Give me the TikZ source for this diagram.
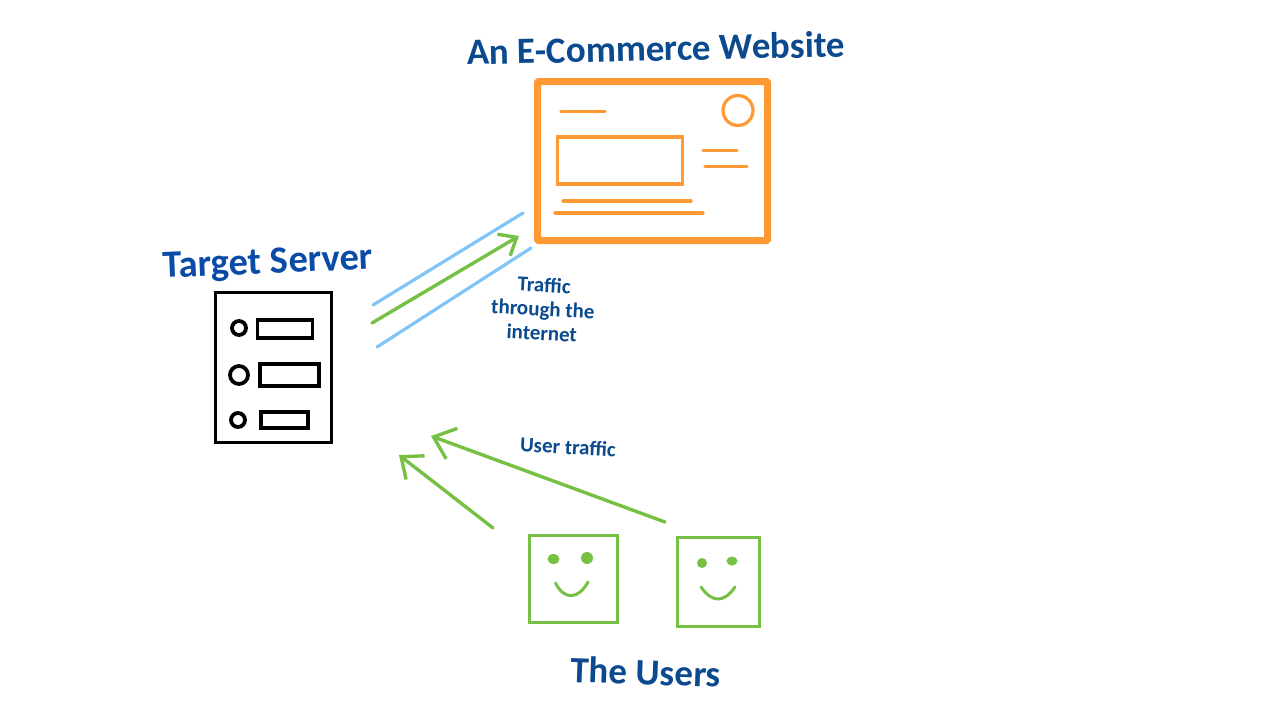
\documentclass[tikz,border=0pt]{standalone}
\usepackage{fontspec}
\setmainfont{Carlito}
\usetikzlibrary{arrows.meta}
\definecolor{navy}{HTML}{0B4A8F}
\definecolor{royal}{HTML}{0A4BA8}
\definecolor{webor}{HTML}{FF9933}
\definecolor{usergr}{HTML}{76C043}
\definecolor{skyb}{HTML}{80C4F8}
\tikzset{
    title/.style={font=\fontsize{#1}{#1}\selectfont\bfseries,text=navy,inner sep=0pt},
    note/.style={font=\fontsize{21}{24}\selectfont\bfseries,text=navy,inner sep=0pt,align=center},
    webline/.style={webor,line width=3.2pt,line cap=round},
    srvline/.style={draw,line width=3.8pt,inner sep=0pt},
    userbox/.style={draw=usergr,line width=3pt,inner sep=0pt,minimum width=#1},
    flow/.style={usergr,line width=3.4pt,line cap=round,-{Straight Barb[length=#1*0.75,width=#1*1.25,line width=3.4pt]}},
    wire/.style={skyb,line width=3.2pt,line cap=round}
}
\begin{document}
\begin{tikzpicture}[x=1pt,y=-1pt]
    \useasboundingbox (0,0) rectangle (1277,710);

    \node[title=37,rotate=1.2] (webtitle) at (656,48) {An E-Commerce Website};
    \node[title=38.5,text=royal,rotate=2.5] (srvtitle) at (268,264) {Target Server};
    \node[title=37,rotate=-2] (usrtitle) at (646,672) {The Users};
    \node[note,rotate=-3] (netnote) at (543,309) {Traffic\\through the\\internet};
    \node[note,rotate=-3] (usrnote) at (568,447) {User traffic};

    % website
    \node[draw=webor,line width=7pt,rounded corners=1pt,minimum width=230pt,minimum height=159pt,inner sep=0pt] (web) at (652.5,161) {};
    \node[draw=webor,line width=3.2pt,minimum width=125pt,minimum height=47pt,inner sep=0pt] (webimg) at (620,160.5) {};
    \node[draw=webor,line width=3.2pt,circle,minimum size=30pt,inner sep=0pt] (weblogo) at (738,110.5) {};
    \foreach \xa/\xb/\y in {561/605/111.5,703/737/150.5,705/747/166.5,563/691/201,555/703/213} {
        \draw[webline] (\xa,\y) -- (\xb,\y);
    }

    % server
    \node[srvline,minimum width=116pt,minimum height=150pt] (srv) at (273.5,367.5) {};
    \foreach \n/\cx/\cy/\r/\bx/\by/\w/\h in {a/239/328/14/285/329/55/18,b/239/375/18/289.5/375/59/22,c/238/420/14/284.5/420/47/16} {
        \node[srvline,circle,minimum size=\r pt] (led\n) at (\cx,\cy) {};
        \node[srvline,minimum width=\w pt,minimum height=\h pt] (slot\n) at (\bx,\by) {};
    }

    % traffic through the internet
    \coordinate (wireAs) at (373,305);
    \coordinate (wireAe) at (523,213);
    \coordinate (wireBs) at (377,347);
    \coordinate (wireBe) at (531,248);
    \coordinate (netS) at (372,323);
    \coordinate (netE) at (519,236);
    \draw[wire] (wireAs) -- (wireAe);
    \draw[wire] (wireBs) -- (wireBe);
    \draw[flow=20pt] (netS) -- (netE);

    % users
    \node[userbox=88pt,minimum height=87pt] (userA) at (573,578.5) {};
    \node[userbox=82pt,minimum height=89pt] (userB) at (718,581.5) {};
    \fill[usergr] (553.5,559) ellipse (6pt and 5pt) (587,558) ellipse (6pt and 6pt);
    \fill[usergr] (702,563) ellipse (5pt and 5pt) (732,561) ellipse (5.5pt and 4.5pt);
    \draw[usergr,line width=3pt,line cap=round] (555.5,583) .. controls (564,600) and (578,600) .. (588,582);
    \draw[usergr,line width=3pt,line cap=round] (701,587) .. controls (712,603) and (724,603) .. (735,587);

    \coordinate (userAs) at (493,528);
    \coordinate (userAe) at (399,455);
    \coordinate (userBs) at (665,522);
    \coordinate (userBe) at (431,436);
    \draw[flow=24pt] (userAs) -- (userAe);
    \draw[flow=26pt] (userBs) -- (userBe);
\end{tikzpicture}
\end{document}
